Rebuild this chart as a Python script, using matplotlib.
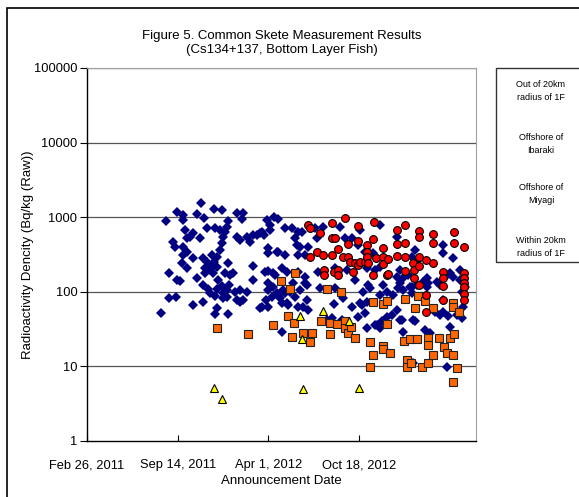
import pandas as pd
import matplotlib
matplotlib.use('Agg')
import matplotlib.pyplot as plt
from matplotlib.patches import Rectangle

plt.rcParams['font.family'] = ['Liberation Sans', 'DejaVu Sans']

# announcement day (days after Feb 26, 2011) and measured value (Bq/kg)
out_days = [163, 174, 181, 181, 190, 194, 196, 198, 198, 205, 209, 212, 212, 212, 212, 216, 220, 220, 220, 227,
            234, 234, 234, 243, 243, 249, 251, 256, 256, 256, 258, 260, 260, 265, 265, 267, 271, 271, 276, 276,
            278, 280, 280, 282, 282, 282, 287, 287, 287, 287, 289, 293, 293, 298, 298, 298, 300, 300, 300, 304,
            304, 309, 309, 309, 311, 311, 311, 313, 315, 322, 326, 331, 331, 331, 337, 337, 337, 342, 344, 344,
            353, 353, 359, 366, 366, 366, 375, 381, 381, 386, 386, 390, 392, 395, 397, 399, 399, 399, 399, 399,
            399, 404, 404, 408, 410, 410, 412, 415, 419, 419, 421, 421, 421, 426, 430, 430, 430, 432, 437, 437,
            437, 441, 441, 443, 448, 452, 454, 459, 459, 463, 465, 465, 465, 465, 470, 470, 474, 476, 481, 481,
            481, 485, 485, 487, 487, 503, 507, 509, 514, 520, 529, 540, 545, 547, 547, 558, 562, 564, 569, 573,
            584, 584, 591, 598, 598, 602, 602, 606, 609, 613, 613, 617, 617, 617, 620, 624, 631, 635, 635, 639,
            639, 646, 646, 646, 646, 650, 653, 662, 662, 673, 675, 684, 684, 684, 686, 690, 690, 690, 695, 697,
            697, 697, 708, 712, 717, 717, 717, 719, 719, 723, 723, 728, 730, 741, 745, 750, 750, 752, 756, 767,
            772, 778, 778, 785, 785, 785, 785, 794, 794, 796, 800, 800, 807, 807, 816, 822, 822, 827, 827, 829,
            833]
out_vals = [52, 880, 178, 83, 463, 396, 86, 1167, 143, 139, 242, 1064, 912, 396, 310, 669, 523, 340, 207, 540,
            610, 282, 67, 1097, 152, 523, 1540, 282, 123, 73, 970, 207, 178, 712, 250, 109, 195, 97, 310, 221,
            178, 1280, 250, 712, 88, 51, 291, 214, 109, 61, 143, 669, 361, 1241, 448, 119, 540, 97, 83, 629,
            178, 734, 105, 86, 884, 242, 51, 123, 167, 178, 100, 1131, 540, 78, 492, 105, 73, 940, 1131, 78,
            540, 100, 463, 574, 221, 143, 574, 610, 61, 629, 63, 574, 183, 78, 912, 384, 330, 189, 131, 105,
            63, 781, 669, 86, 178, 115, 1000, 167, 340, 97, 940, 340, 91, 83, 207, 71, 29, 105, 712, 310,
            97, 183, 71, 67, 100, 712, 131, 523, 86, 422, 629, 310, 183, 63, 396, 105, 629, 63, 310, 157,
            131, 123, 78, 396, 57, 712, 523, 183, 112, 734, 42, 45, 69, 207, 112, 734, 42, 83, 523, 195,
            523, 63, 143, 422, 46, 669, 71, 67, 100, 340, 52, 207, 73, 33, 123, 112, 330, 195, 36, 282,
            36, 781, 214, 91, 33, 40, 123, 100, 46, 49, 91, 540, 157, 57, 112, 195, 131, 42, 42, 152,
            105, 29, 167, 115, 291, 115, 97, 42, 11.2, 361, 40, 123, 267, 137, 31, 152, 115, 131, 28, 54,
            137, 123, 49, 424, 330, 78, 54, 167, 9.7, 47, 178, 34, 282, 160, 49, 195, 143, 100, 45, 63,
            115]

ibaraki_days = [287, 355, 410, 428, 443, 448, 452, 456, 459, 476, 492, 496, 516, 529, 536, 536, 551, 560, 569, 569,
                576, 582, 591, 624, 624, 631, 631, 653, 653, 653, 662, 662, 668, 699, 701, 706, 706, 712, 714, 723,
                728, 730, 739, 745, 752, 752, 752, 763, 763, 776, 787, 794, 800, 807, 807, 807, 807, 809, 816, 820]
ibaraki_vals = [33, 27, 36, 139, 48, 109, 25, 38, 178, 28, 21, 28, 40, 109, 38, 27, 37, 100, 41, 33,
                28, 34, 24, 21, 9.7, 73, 14, 69, 19, 17, 76, 37, 15, 22, 81, 12.3, 9.7, 23, 11.2, 61,
                23, 88, 9.7, 76, 24, 19.5, 11.2, 61, 14, 24, 18, 15, 24, 71, 63, 14, 6.1, 27, 9.4, 54]

miyagi_days = [280, 298, 470, 474, 476, 520, 578, 600]
miyagi_vals = [5.2, 3.6, 48, 23, 4.9, 56, 41, 5.2]

within_days = [487, 492, 492, 507, 514, 520, 523, 523, 540, 540, 540, 545, 547, 553, 553, 553, 564, 569, 576, 576,
               580, 587, 591, 598, 598, 598, 602, 613, 617, 617, 617, 620, 631, 631, 633, 637, 653, 653, 653, 662,
               664, 664, 684, 684, 684, 701, 701, 701, 701, 719, 721, 721, 732, 732, 732, 732, 732, 747, 747, 747,
               763, 763, 763, 785, 785, 785, 785, 809, 809, 831, 831, 831, 831, 831, 831, 831]
within_vals = [781, 712, 291, 340, 610, 310, 195, 167, 831, 523, 310, 183, 523, 373, 195, 167, 291, 970, 435, 291,
               250, 183, 242, 758, 477, 228, 250, 250, 424, 340, 291, 242, 507, 167, 857, 282, 384, 291, 235, 167,
               274, 172, 669, 435, 300, 781, 448, 291, 189, 242, 195, 152, 649, 540, 291, 221, 123, 267, 91, 54,
               592, 448, 242, 183, 152, 119, 78, 629, 448, 396, 178, 152, 131, 115, 94, 78]

legend_labels = ['Out of 20km\nradius of 1F', 'Offshore of\nIbaraki', 'Offshore of\nMiyagi', 'Within 20km\nradius of 1F']

base = pd.Timestamp('2011-02-26')


def to_dates(days):
    return base + pd.to_timedelta(days, unit='D')


fig = plt.figure(figsize=(5.79, 4.97), dpi=100)
ax = fig.add_axes([0.1503, 0.1127, 0.6718, 0.7505])

ax.plot(to_dates(out_days), out_vals, 'D', color='#000080', markersize=5.5, markeredgewidth=0, zorder=3)
ax.plot(to_dates(ibaraki_days), ibaraki_vals, 's', color='#FF6600', markeredgecolor='#222222',
        markersize=5.3, markeredgewidth=0.8, zorder=4)
ax.plot(to_dates(miyagi_days), miyagi_vals, '^', color='#FFFF00', markeredgecolor='black',
        markersize=5.5, markeredgewidth=0.8, zorder=5)
ax.plot(to_dates(within_days), within_vals, 'o', color='#FF0000', markeredgecolor='black',
        markersize=5.6, markeredgewidth=0.8, zorder=6)

ax.set_yscale('log')
ax.set_ylim(1, 100000)
yticks = [1, 10, 100, 1000, 10000, 100000]
ax.set_yticks(yticks)
ax.set_yticklabels([str(t) for t in yticks])
ax.yaxis.set_minor_locator(matplotlib.ticker.NullLocator())
for t in yticks[1:]:
    ax.axhline(t, color='#555555', linewidth=0.9, zorder=1)

ax.set_xlim(base, base + pd.Timedelta(days=858))
xt = [base + pd.Timedelta(days=d) for d in [0, 200, 400, 600]]
ax.set_xticks(xt)
ax.set_xticklabels([f"{d:%b} {d.day}, {d.year}" for d in xt])

ax.tick_params(axis='x', direction='in', length=4, labelsize=9.3, pad=13)
ax.tick_params(axis='y', direction='out', length=5, labelsize=9.3, pad=2)

for s in ['top', 'right']:
    ax.spines[s].set_color('#a0a0a0')
for s in ['left', 'bottom']:
    ax.spines[s].set_color('black')
    ax.spines[s].set_linewidth(1.0)

ax.set_xlabel('Announcement Date', fontsize=9.5, labelpad=3)
ax.set_ylabel('Radioactivity Dencity (Bq/kg (Raw))', fontsize=9.5)
ax.yaxis.set_label_coords(-0.136, 0.5)
ax.set_title('Figure 5. Common Skete Measurement Results\n(Cs134+137, Bottom Layer Fish)',
             fontsize=9.5, pad=11)

# outer chart frame (cropped on right and bottom)
fig.patches.append(Rectangle((7 / 579, -0.1), 1.2, 1 - 8 / 497 + 0.1, transform=fig.transFigure,
                             fill=False, edgecolor='black', linewidth=1.2))

# legend box without markers
fig.patches.append(Rectangle((496 / 579, 1 - 262 / 497), 0.3, (262 - 68) / 497, transform=fig.transFigure,
                             fill=False, edgecolor='#333333', linewidth=1.0))
for lab, ypix in zip(legend_labels, [91, 144, 194, 247]):
    fig.text(541 / 579, 1 - ypix / 497, lab, fontsize=6.5, ha='center', va='center', linespacing=1.5)

fig.savefig('out.png', dpi=100)
